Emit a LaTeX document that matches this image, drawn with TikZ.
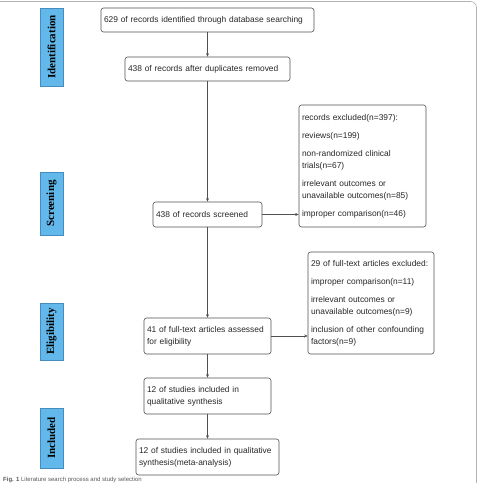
\documentclass[tikz,border=0pt]{standalone}
\usepackage{fontspec}
\setmainfont{Liberation Sans}
\newfontfamily\labelfont{Liberation Serif}
\usetikzlibrary{arrows.meta}
\definecolor{stagefill}{RGB}{98,184,234}
\definecolor{stageedge}{RGB}{70,140,190}
\definecolor{edgegray}{RGB}{80,80,80}
\tikzset{
  box/.style={draw=edgegray, line width=0.6pt, rounded corners=2.5pt, align=left, inner sep=3pt,
    font=\fontsize{8.4}{12}\selectfont, text=black!85},
  stage/.style={draw=stageedge, fill=stagefill, line width=0.6pt, rotate=90, inner sep=0pt,
    minimum height=23pt, font=\labelfont\bfseries\fontsize{11}{12}\selectfont},
  arr/.style={draw=edgegray, line width=0.6pt, -{Stealth[length=3.5pt,width=3pt]}},
}
\begin{document}
\begin{tikzpicture}[x=1pt,y=-1pt]
\useasboundingbox (0,0) rectangle (478,483);
% outer frame
\draw[gray!60, line width=0.6pt, rounded corners=6pt] (0,1.5) -- (476.5,1.5) -- (476.5,483);
% stage labels
\node[stage, minimum width=78pt] (sid) at (51.5,47) {Identification};
\node[stage, minimum width=63pt] (ssc) at (51.5,203.5) {Screening};
\node[stage, minimum width=57pt] (sel) at (51.5,331.5) {Eligibility};
\node[stage, minimum width=60pt] (sin) at (51.5,438) {Included};
% main boxes
\node[box, minimum width=213pt, text width=207pt, minimum height=24pt] (b1) at (207.5,20)
  {629 of records identified through database searching};
\node[box, minimum width=165pt, text width=159pt, minimum height=24pt] (b2) at (207.5,69)
  {438 of records after duplicates removed};
\node[box, minimum width=109pt, text width=103pt, minimum height=25pt] (b3) at (207.5,214.5)
  {438 of records screened};
\node[box, minimum width=127pt, text width=121pt, minimum height=36pt] (b4) at (207.5,336)
  {41 of full-text articles assessed\\for eligibility};
\node[box, minimum width=127pt, text width=121pt, minimum height=36pt] (b5) at (207.5,396)
  {12 of studies included in\\qualitative synthesis};
\node[box, minimum width=143pt, text width=137pt, minimum height=36pt] (b6) at (207.5,457)
  {12 of studies included in qualitative\\synthesis(meta-analysis)};
% exclusion boxes
\node[box, minimum width=127pt, text width=121pt, minimum height=122pt] (e1) at (362.5,166)
  {records excluded(n=397):\\[6pt]
   reviews(n=199)\\[6pt]
   non-randomized clinical\\trials(n=67)\\[6pt]
   irrelevant outcomes or\\unavailable outcomes(n=85)\\[6pt]
   improper comparison(n=46)};
\node[box, minimum width=126pt, text width=120pt, minimum height=102pt] (e2) at (371,303)
  {29 of full-text articles excluded:\\[6pt]
   improper comparison(n=11)\\[6pt]
   irrelevant outcomes or\\unavailable outcomes(n=9)\\[6pt]
   inclusion of other confounding\\factors(n=9)};
% connectors
\draw[arr] (b1.south) -- (b2.north);
\draw[arr] (b2.south) -- (b3.north);
\draw[arr] (b3.south) -- (b4.north);
\draw[arr] (b4.south) -- (b5.north);
\draw[arr] (b5.south) -- (b6.north);
\draw[arr] (b3.east) -- (e1.west |- b3.east);
\draw[arr] (b4.east) -- (e2.west |- b4.east);
% caption
\node[anchor=base west, inner sep=0pt, text=gray!70!black, font=\fontsize{6}{7}\selectfont] (cap) at (3,481)
  {\textbf{Fig. 1} Literature search process and study selection};
\end{tikzpicture}
\end{document}
